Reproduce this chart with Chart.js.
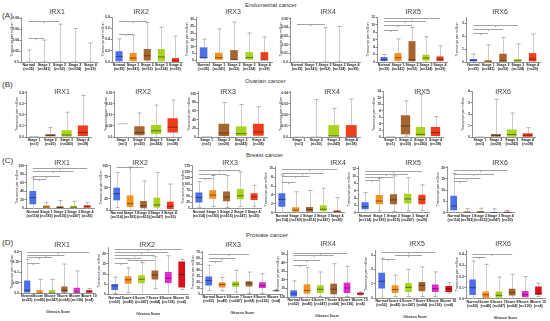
<!DOCTYPE html>
<html>
<head>
<meta charset="utf-8">
<script src="https://cdn.jsdelivr.net/npm/chart.js@4.4.1/dist/chart.umd.min.js"></script>
<style>
  html, body { margin: 0; padding: 0; background: #fff; }
  #fig { position: relative; width: 550px; height: 321px; overflow: hidden; font-family: 'Liberation Sans', Arial, sans-serif; color: #333; }
  #fig canvas { position: absolute; }
  .txt { position: absolute; white-space: nowrap; line-height: 1; }
  .panel { font-size: 8px; color: #333; }
  .cancer { font-size: 6px; color: #333; }
  .gene { font-size: 7px; color: #3a3a3a; transform: translate(-50%, -50%); }
</style>
</head>
<body>
<div id="fig">
  <div class="txt panel" style="left:2px;top:12px">(A)</div>
  <div class="txt panel" style="left:2px;top:81px">(B)</div>
  <div class="txt panel" style="left:2px;top:157px">(C)</div>
  <div class="txt panel" style="left:2px;top:239px">(D)</div>
  <div class="txt cancer" style="left:245px;top:2px">Endometrial cancer</div>
  <div class="txt cancer" style="left:245px;top:78px">Ovarian cancer</div>
  <div class="txt cancer" style="left:246px;top:152px">Breast cancer</div>
  <div class="txt cancer" style="left:246px;top:232px">Prostate cancer</div>
</div>
<script>
// Группы по оси X
const endoCats = [['Normal', '(n=35)'], ['Stage 1', '(n=341)'], ['Stage 2', '(n=52)'], ['Stage 3', '(n=124)'], ['Stage 4', '(n=29)']];
const ovCats = [['Stage 1', '(n=1)'], ['Stage 2', '(n=20)'], ['Stage 3', '(n=243)'], ['Stage 4', '(n=38)']];
const brCats = [['Normal', '(n=114)'], ['Stage 1', '(n=183)'], ['Stage 2', '(n=615)'], ['Stage 3', '(n=247)'], ['Stage 4', '(n=20)']];
const prCats = [['Normal', '(n=52)'], ['Score 6', '(n=45)'], ['Score 7', '(n=247)'], ['Score 8', '(n=64)'], ['Score 9', '(n=136)'], ['Score 10', '(n=4)']];

// Боксплоты: [min, q1, median, q3, max] для каждой группы
// значимость: [от группы, до группы, уровень]
const endoIRX1 = [[0, 0, 0, 0, 0.022], [0, 0, 0, 0, 0.04], [0, 0, 0, 0, 0.069], [0, 0, 0, 0, 0.061], [0, 0, 0, 0, 0.0345]];
const endoIRX1Sig = [[0, 2, 0.0754], [0, 1, 0.0434]];
const endoIRX1Ticks = ['0.0', '0.02', '0.04', '0.06', '0.08'];

const endoIRX2 = [[0, 0.015, 0.1, 0.19, 0.41], [0, 0.015, 0.07, 0.16, 0.48], [0, 0.025, 0.11, 0.23, 0.7], [0, 0.015, 0.09, 0.23, 0.62], [0, 0.002, 0.025, 0.07, 0.46]];
const endoIRX2Sig = [[0, 2, 0.73], [0, 1, 0.5]];
const endoIRX2Ticks = ['0.0', '0.2', '0.4', '0.6', '0.8'];

const endoIRX3 = [[0, 1.5, 2, 9.5, 15.5], [0, 0, 2, 5.5, 23], [0, 0, 0.5, 7.5, 28], [0, 0.5, 2, 6, 20], [0, 0, 0.3, 6, 17]];
const endoIRX3Sig = [];
const endoIRX3Ticks = ['0', '5', '10', '15', '20', '25', '30'];

const endoIRX4 = [[0, 0, 0, 0, 0], [0, 0, 0, 0, 0], [0, 0, 0, 0, 0.0398], [0, 0, 0, 0, 0.041], [0, 0, 0, 0, 0]];
const endoIRX4Sig = [[0, 2, 0.044]];
const endoIRX4Ticks = ['0.0', '0.01', '0.02', '0.03', '0.04', '0.05'];

const endoIRX5 = [[0, 0.27, 0.6, 1.33, 2.0], [0, 0.27, 1.15, 2.4, 6.2], [0, 0.2, 0.6, 5.6, 9.3], [0, 0.36, 1.07, 1.96, 6.8], [0, 0.27, 0.8, 1.5, 4.36]];
const endoIRX5Sig = [[0, 4, 11.8], [0, 3, 10.9], [0, 2, 10.0], [0, 1, 8.6]];
const endoIRX5Ticks = ['0', '2', '4', '6', '8', '10', '12'];

const endoIRX6 = [[0, 0.05, 0.13, 0.23, 0.62], [0, 0, 0.05, 0.15, 1.33], [0, 0, 0.08, 0.64, 1.9], [0, 0, 0.1, 0.23, 1.41], [0, 0.05, 0.23, 0.69, 2.18]];
const endoIRX6Sig = [[0, 3, 2.87], [0, 2, 2.56], [0, 1, 2.23]];
const endoIRX6Ticks = ['0', '1', '2', '3'];

const ovIRX1 = [[0.003, 0.003, 0.003, 0.003, 0.003], [0, 0.006, 0.015, 0.025, 0.086], [0, 0.003, 0.018, 0.062, 0.225], [0, 0.009, 0.04, 0.105, 0.378]];
const ovIRX1Ticks = ['0.0', '0.1', '0.2', '0.3', '0.4'];
const ovIRX2 = [[0.06, 0.06, 0.06, 0.06, 0.06], [0, 0.008, 0.02, 0.049, 0.109], [0, 0.014, 0.028, 0.055, 0.145], [0, 0.02, 0.045, 0.085, 0.168]];
const ovIRX2Ticks = ['0.0', '0.05', '0.10', '0.15', '0.20'];
const ovIRX3 = [[0.3, 0.3, 0.3, 0.3, 0.3], [0, 2.3, 9.2, 30.5, 79.4], [0, 2.3, 7.6, 24.4, 74.8], [0, 3, 11.5, 30.5, 69.5]];
const ovIRX3Ticks = ['0', '20', '40', '60', '80', '100'];
const ovIRX4 = [[0, 0, 0, 0, 0], [0, 0, 0, 0, 0.034], [0, 0, 0.001, 0.0108, 0.026], [0, 0, 0.0003, 0.0108, 0.0345]];
const ovIRX4Ticks = ['0.0', '0.01', '0.02', '0.03', '0.04'];
const ovIRX5 = [[0.05, 0.05, 0.05, 0.05, 0.05], [0.3, 0.8, 3.35, 6.6, 11], [0, 0.2, 0.8, 3.05, 13], [0, 0.3, 1.3, 3.05, 6.2]];
const ovIRX5Ticks = ['0', '2', '4', '6', '8', '10', '12', '14'];
const ovIRX6 = [[0, 0, 0, 0, 0], [0, 0, 0.12, 0.27, 3.28], [0, 0.03, 0.21, 0.66, 2.1], [0, 0.03, 0.15, 0.33, 0.81]];
const ovIRX6Ticks = ['0', '1', '2', '3', '4'];

const brIRX1 = [[0, 10, 25.4, 40.8, 72], [0, 0.8, 3.8, 6.9, 13.8], [0, 0.8, 2.3, 5.4, 18.5], [0, 0.8, 3, 6.2, 17], [0, 1.5, 4.6, 7.7, 14.6]];
const brIRX1Sig = [[0, 4, 96], [0, 3, 87], [0, 2, 77], [0, 1, 69]];
const brIRX1Ticks = ['0', '20', '40', '60', '80', '100'];
const brIRX2 = [[5.3, 21.8, 36.8, 50.4, 85], [0, 6.8, 14.3, 33, 97], [0, 3.8, 9.8, 20.3, 65.4], [0, 5.3, 11.3, 27.8, 85], [0, 2.3, 8.3, 18.8, 58.6]];
const brIRX2Sig = [[0, 2, 97.7]];
const brIRX2Ticks = ['0', '25', '50', '75', '100'];
const brIRX3 = [[5, 25, 45, 65, 110], [8, 40, 55, 75, 135], [5, 30, 47, 70, 135], [8, 38, 52, 80, 150], [10, 35, 48, 62, 95]];
const brIRX3Sig = [[0, 3, 157], [0, 2, 140], [0, 1, 123]];
const brIRX3Ticks = ['0', '25', '50', '75', '100', '125', '150', '175'];
const brIRX4 = [[0, 1.35, 3.0, 4.4, 8.5], [0, 0.2, 0.6, 1.2, 4.7], [0, 0.2, 0.7, 1.3, 5], [0, 0.3, 0.8, 1.7, 5.5], [0, 0, 0.3, 0.5, 3.4]];
const brIRX4Sig = [[0, 4, 9.8], [0, 3, 9.0], [0, 2, 8.3], [0, 1, 7.0]];
const brIRX4Ticks = ['0', '2', '4', '6', '8', '10'];
const brIRX5 = [[0, 0.92, 1.65, 2.84, 5.5], [0.5, 2.3, 3.2, 4.86, 9.45], [0.3, 2.3, 3.5, 5.05, 10.1], [0.5, 2.5, 3.76, 5.2, 9.6], [0.6, 2.3, 3.7, 4.9, 7.6]];
const brIRX5Sig = [[0, 4, 11.5], [0, 3, 10.5], [0, 2, 9.7], [0, 1, 9.0]];
const brIRX5Ticks = ['0', '2', '4', '6', '8', '10', '12'];
const brIRX6 = [[0, 1.04, 2.96, 7.55, 17.5], [0, 0, 0.2, 0.5, 1.8], [0, 0, 0.25, 0.6, 2], [0, 0, 0.1, 0.3, 1.7], [0, 0, 0.1, 0.4, 1]];
const brIRX6Sig = [[0, 4, 18.8], [0, 3, 17.1], [0, 2, 15.6], [0, 1, 14.0]];
const brIRX6Ticks = ['0', '5', '10', '15', '20'];

const prIRX1 = [[0, 0, 0.013, 0.061, 0.162], [0, 0, 0, 0.015, 0.066], [0, 0, 0, 0.015, 0.066], [0, 0, 0.013, 0.031, 0.14], [0, 0, 0.003, 0.025, 0.107], [0, 0.002, 0.005, 0.013, 0.021]];
const prIRX1Sig = [[0, 5, 0.2], [0, 3, 0.185], [0, 2, 0.172], [0, 1, 0.145]];
const prIRX1Ticks = ['0.0', '0.05', '0.1', '0.15', '0.2'];
const prIRX2 = [[0.5, 2.2, 4.2, 5.2, 8.5], [1, 5.3, 7.2, 8.9, 13], [0, 5.5, 7.5, 9.4, 15.6], [3, 7.3, 9.6, 11.8, 18.5], [0, 5.6, 8, 11, 19], [2.5, 3.4, 9.8, 16.2, 17.2]];
const prIRX2Sig = [[0, 5, 22.5], [0, 4, 20.9], [0, 3, 19.6], [0, 2, 18.1], [1, 3, 16.8], [0, 1, 15.5]];
const prIRX2Ticks = ['0', '5', '10', '15', '20'];
const prIRX3 = [[5.7, 14.2, 22.8, 29.6, 48.4], [5.7, 10.8, 15.9, 19.9, 27.9], [3, 12, 16.5, 21, 39.8], [1, 12.5, 18.2, 21.6, 37], [1, 10.2, 14.2, 19.9, 34], [5, 5.3, 5.6, 6, 6.5]];
const prIRX3Sig = [[0, 3, 67], [0, 2, 61], [0, 1, 55.7]];
const prIRX3Ticks = ['0', '10', '20', '30', '40', '50', '60', '70'];
const prIRX4 = [[0, 0, 3.9, 7.8, 18.75], [0, 3.9, 7.8, 14.8, 34.4], [0.5, 4.7, 9, 13.7, 29.3], [0, 3.1, 9, 15.6, 39], [0.5, 4.7, 10.5, 16.8, 35.9], [2, 2.7, 3.9, 5.1, 5.9]];
const prIRX4Sig = [[0, 4, 52], [0, 3, 48.8], [0, 2, 43.75], [0, 1, 37.9]];
const prIRX4Ticks = ['0', '10', '20', '30', '40', '50'];
const prIRX5 = [[0, 0.66, 1.17, 1.78, 2.8], [0.1, 0.35, 0.59, 0.89, 1.6], [0.1, 0.42, 0.75, 1.05, 2.0], [0.1, 0.47, 0.89, 1.12, 2.18], [0.1, 0.42, 0.66, 0.94, 1.83], [0.35, 0.42, 0.66, 0.84, 1.08]];
const prIRX5Sig = [[0, 4, 3.23], [1, 3, 3.0], [0, 1, 2.75]];
const prIRX5Ticks = ['0', '1', '2', '3'];
const prIRX6 = [[0, 0.033, 0.1, 0.174, 0.34], [0, 0.006, 0.036, 0.066, 0.31], [0, 0.009, 0.03, 0.066, 0.195], [0, 0.03, 0.054, 0.09, 0.22], [0, 0.012, 0.036, 0.07, 0.2], [0.02, 0.036, 0.045, 0.11, 0.14]];
const prIRX6Sig = [[0, 3, 0.403], [0, 1, 0.379]];
const prIRX6Ticks = ['0.0', '0.1', '0.2', '0.3', '0.4'];

// Цвета групп
const stageColors = ['#4d6fea', '#f7901e', '#a6652e', '#a9d41e', '#f33d18'];
const ovColors = ['#b4b4b4', '#a6652e', '#a9d41e', '#f33d18'];
const gleasonColors = ['#4d6fea', '#f7901e', '#a9d41e', '#a6652e', '#e22ad0', '#d8111c'];

// Раскладка: box = [left, right, top, bottom] области графика, title = центр заголовка
const panels = [
  { name: 'IRX1', stats: endoIRX1, sig: endoIRX1Sig, ticks: endoIRX1Ticks, cats: endoCats, colors: stageColors, box: [21, 98, 17, 62], max: 0.082, title: [57, 11] },
  { name: 'IRX2', stats: endoIRX2, sig: endoIRX2Sig, ticks: endoIRX2Ticks, cats: endoCats, colors: stageColors, box: [112, 182.5, 17, 62], max: 0.8, title: [141, 11] },
  { name: 'IRX3', stats: endoIRX3, sig: endoIRX3Sig, ticks: endoIRX3Ticks, cats: endoCats, colors: stageColors, box: [196, 272, 17, 62], min: -1.2, max: 31.7, title: [233, 11] },
  { name: 'IRX4', stats: endoIRX4, sig: endoIRX4Sig, ticks: endoIRX4Ticks, cats: endoCats, colors: stageColors, box: [290, 360, 17, 62], max: 0.052, title: [328, 11] },
  { name: 'IRX5', stats: endoIRX5, sig: endoIRX5Sig, ticks: endoIRX5Ticks, cats: endoCats, colors: stageColors, box: [377, 447, 17, 62], max: 12.1, title: [413, 11] },
  { name: 'IRX6', stats: endoIRX6, sig: endoIRX6Sig, ticks: endoIRX6Ticks, cats: endoCats, colors: stageColors, box: [466, 540, 17, 62], max: 3.5, title: [500, 11] },

  { name: 'IRX1', stats: ovIRX1, sig: [], ticks: ovIRX1Ticks, cats: ovCats, colors: ovColors, box: [26, 91, 91, 137], max: 0.418, title: [62, 91], wide: true },
  { name: 'IRX2', stats: ovIRX2, sig: [], ticks: ovIRX2Ticks, cats: ovCats, colors: ovColors, box: [114.5, 181, 91, 137], max: 0.209, title: [143, 91], wide: true },
  { name: 'IRX3', stats: ovIRX3, sig: [], ticks: ovIRX3Ticks, cats: ovCats, colors: ovColors, box: [198, 267, 91, 137], max: 106, title: [228, 91], wide: true },
  { name: 'IRX4', stats: ovIRX4, sig: [], ticks: ovIRX4Ticks, cats: ovCats, colors: ovColors, box: [290, 360, 91, 137], max: 0.0418, title: [332, 91], wide: true },
  { name: 'IRX5', stats: ovIRX5, sig: [], ticks: ovIRX5Ticks, cats: ovCats, colors: ovColors, box: [383, 443, 91, 137], max: 14, title: [422, 91], wide: true },
  { name: 'IRX6', stats: ovIRX6, sig: [], ticks: ovIRX6Ticks, cats: ovCats, colors: ovColors, box: [472, 535.6, 91, 137], max: 4.03, title: [503, 91], wide: true },

  { name: 'IRX1', stats: brIRX1, sig: brIRX1Sig, ticks: brIRX1Ticks, cats: brCats, colors: stageColors, box: [26, 94, 165, 208.5], max: 102, title: [62, 162] },
  { name: 'IRX2', stats: brIRX2, sig: brIRX2Sig, ticks: brIRX2Ticks, cats: brCats, colors: stageColors, box: [110, 177, 165, 210], max: 101.6, title: [140, 162] },
  { name: 'IRX3', stats: brIRX3, sig: brIRX3Sig, ticks: brIRX3Ticks, cats: brCats, colors: stageColors, box: [192, 261, 165, 208.5], max: 178, title: [230, 162] },
  { name: 'IRX4', stats: brIRX4, sig: brIRX4Sig, ticks: brIRX4Ticks, cats: brCats, colors: stageColors, box: [275, 344, 166, 212.7], max: 10.5, title: [338, 162] },
  { name: 'IRX5', stats: brIRX5, sig: brIRX5Sig, ticks: brIRX5Ticks, cats: brCats, colors: stageColors, box: [358, 429, 166, 212.7], max: 12.8, title: [413, 162] },
  { name: 'IRX6', stats: brIRX6, sig: brIRX6Sig, ticks: brIRX6Ticks, cats: brCats, colors: stageColors, box: [447, 514, 166, 212.7], max: 20.75, title: [500, 162] },

  { name: 'IRX1', stats: prIRX1, sig: prIRX1Sig, ticks: prIRX1Ticks, cats: prCats, colors: gleasonColors, box: [21, 95.4, 251, 293], max: 0.203, title: [62, 244], xTitle: true },
  { name: 'IRX2', stats: prIRX2, sig: prIRX2Sig, ticks: prIRX2Ticks, cats: prCats, colors: gleasonColors, box: [108, 188.4, 247, 294.5], max: 23.3, title: [147, 244], xTitle: true },
  { name: 'IRX3', stats: prIRX3, sig: prIRX3Sig, ticks: prIRX3Ticks, cats: prCats, colors: gleasonColors, box: [202, 282.6, 251, 294], max: 72.5, title: [233, 244], xTitle: true },
  { name: 'IRX4', stats: prIRX4, sig: prIRX4Sig, ticks: prIRX4Ticks, cats: prCats, colors: gleasonColors, box: [287, 367, 250, 297], max: 55, title: [328, 243], xTitle: true },
  { name: 'IRX5', stats: prIRX5, sig: prIRX5Sig, ticks: prIRX5Ticks, cats: prCats, colors: gleasonColors, box: [375, 455.4, 250, 298], max: 3.37, title: [417, 243], xTitle: true },
  { name: 'IRX6', stats: prIRX6, sig: prIRX6Sig, ticks: prIRX6Ticks, cats: prCats, colors: gleasonColors, box: [466, 545, 250, 298.7], max: 0.44, title: [503, 243], xTitle: true }
];

Chart.defaults.font.family = "'Liberation Sans', Arial, sans-serif";

// Усы, медианы и линии значимости рисуем по шкалам графика
const boxPlugin = {
  id: 'boxPlugin',
  beforeDatasetsDraw(chart) {
    const { ctx } = chart;
    const x = chart.scales.x;
    const y = chart.scales.y;
    const ds = chart.data.datasets[0];
    ctx.save();
    ds.stats.forEach((s, i) => {
      if (s[4] <= s[0]) return;
      const px = Math.round(x.getPixelForValue(i)) + 0.5;
      const top = y.getPixelForValue(s[4]);
      const bot = y.getPixelForValue(s[0]);
      ctx.strokeStyle = '#cdcdcd';
      ctx.lineWidth = 1;
      ctx.beginPath();
      ctx.moveTo(px, bot);
      ctx.lineTo(px, top);
      ctx.stroke();
      ctx.strokeStyle = '#9c9c9c';
      ctx.lineWidth = 0.8;
      ctx.beginPath();
      ctx.moveTo(px - 2, top);
      ctx.lineTo(px + 2, top);
      if (s[0] > 0) {
        ctx.moveTo(px - 2, bot);
        ctx.lineTo(px + 2, bot);
      }
      ctx.stroke();
    });
    ctx.restore();
  },
  afterDatasetsDraw(chart) {
    const { ctx } = chart;
    const x = chart.scales.x;
    const y = chart.scales.y;
    const ds = chart.data.datasets[0];
    const meta = chart.getDatasetMeta(0);
    ctx.save();
    ds.stats.forEach((s, i) => {
      const px = x.getPixelForValue(i);
      const w = meta.data[i].width;
      const py = y.getPixelForValue(s[2]);
      ctx.strokeStyle = s[1] === s[3] ? '#aaaaaa' : 'rgba(25,25,25,0.7)';
      ctx.lineWidth = 0.8;
      ctx.beginPath();
      ctx.moveTo(px - w / 2, py);
      ctx.lineTo(px + w / 2, py);
      ctx.stroke();
    });
    ds.sig.forEach(([a, b, v]) => {
      const x1 = x.getPixelForValue(a);
      const x2 = x.getPixelForValue(b);
      const py = Math.round(y.getPixelForValue(v)) + 0.5;
      ctx.strokeStyle = '#8a8a8a';
      ctx.lineWidth = 0.8;
      ctx.beginPath();
      ctx.moveTo(x1, py);
      ctx.lineTo(x2, py);
      ctx.stroke();
      ctx.fillStyle = '#666';
      ctx.font = "4px 'Liberation Sans', Arial, sans-serif";
      ctx.textAlign = 'center';
      ctx.textBaseline = 'top';
      ctx.fillText('*', (x1 + x2) / 2, py + 0.5);
    });
    ctx.restore();
  }
};

function drawPanel(p) {
  const [L, R, T, B] = p.box;
  const xH = p.xTitle ? 21 : 10;
  const cLeft = Math.round(L - 11);
  const cTop = Math.round(T - 3);
  const yW = L - cLeft;
  const padTop = T - cTop;
  const cW = Math.ceil(R - cLeft + 4);
  const cH = Math.ceil(B + xH - cTop);
  const xFit = cH - (B - cTop);
  const tickVals = p.ticks.map(Number);

  const fig = document.getElementById('fig');
  const canvas = document.createElement('canvas');
  canvas.width = cW;
  canvas.height = cH;
  canvas.style.left = cLeft + 'px';
  canvas.style.top = cTop + 'px';
  fig.appendChild(canvas);

  const title = document.createElement('div');
  title.className = 'txt gene';
  title.textContent = p.name;
  title.style.left = p.title[0] + 'px';
  title.style.top = p.title[1] + 'px';
  fig.appendChild(title);

  new Chart(canvas, {
    type: 'bar',
    data: {
      labels: p.cats,
      datasets: [{
        data: p.stats.map(s => [s[1], s[3]]),
        stats: p.stats,
        sig: p.sig,
        backgroundColor: p.colors,
        borderWidth: 0,
        borderSkipped: false,
        barPercentage: p.wide ? 0.62 : 0.5,
        categoryPercentage: 1
      }]
    },
    options: {
      responsive: false,
      animation: false,
      devicePixelRatio: 1,
      layout: { padding: { top: padTop, right: cW - (R - cLeft), left: 0, bottom: 0 } },
      plugins: {
        legend: { display: false },
        tooltip: { enabled: false }
      },
      scales: {
        x: {
          grid: { display: false, drawTicks: false },
          border: { color: '#777', width: 0.8 },
          ticks: {
            autoSkip: false,
            maxRotation: 0,
            minRotation: 0,
            padding: 1.5,
            color: '#222',
            font: { size: 3.6, weight: 'bold', lineHeight: 1.1 }
          },
          title: {
            display: !!p.xTitle,
            text: 'Gleason Score',
            color: '#333',
            font: { size: 3.4, weight: 'bold' },
            padding: 0
          },
          afterFit: (scale) => { scale.height = xFit; }
        },
        y: {
          min: p.min !== undefined ? p.min : 0,
          max: p.max,
          afterBuildTicks: (scale) => { scale.ticks = tickVals.map(v => ({ value: v })); },
          grid: { drawOnChartArea: false, tickLength: 1.5, color: '#777' },
          border: { color: '#777', width: 0.8 },
          ticks: {
            autoSkip: false,
            padding: 0.5,
            color: '#333',
            font: { size: 3.4, weight: 'bold' },
            callback: (v, i) => p.ticks[i]
          },
          title: {
            display: true,
            text: 'Transcript per million',
            color: '#333',
            font: { size: 3.7 },
            padding: 0
          },
          afterFit: (scale) => { scale.width = yW; }
        }
      }
    },
    plugins: [boxPlugin]
  });
}

panels.forEach(drawPanel);
</script>
</body>
</html>
